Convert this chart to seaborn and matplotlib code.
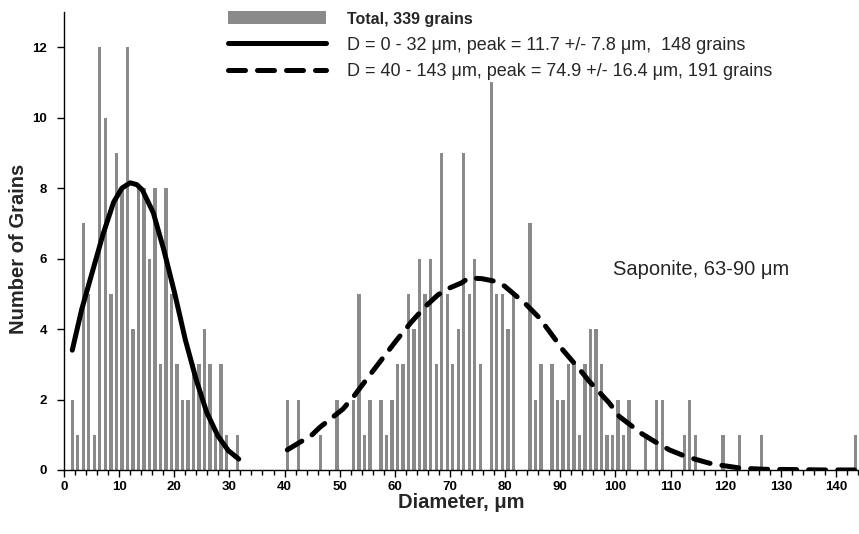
import numpy as np
import pandas as pd
import matplotlib
matplotlib.use("Agg")
import matplotlib.pyplot as plt
import seaborn as sns
from matplotlib.patches import Patch
from matplotlib.lines import Line2D
from matplotlib.ticker import MultipleLocator

# grains per 1 um bin, bin d covers [d, d+1)
diam_small = list(range(1, 32))
cnt_small = [2, 1, 7, 5, 1, 12, 10, 5, 9, 8, 12, 4, 8, 8, 6, 8, 3, 8, 5, 3,
             2, 2, 3, 3, 4, 3, 1, 3, 1, 0, 1]

diam_large = [40, 42, 46, 49, 52, 53, 54, 55, 57, 58, 59, 60, 61, 62, 63, 64,
              65, 66, 67, 68, 69, 70, 71, 72, 73, 74, 75, 77, 78, 79, 80, 81,
              84, 85, 86, 88, 89, 90, 91, 92, 93, 94, 95, 96, 97, 98, 99, 100,
              101, 102, 105, 107, 108, 112, 113, 114, 119, 122, 126, 143]
cnt_large = [2, 2, 1, 2, 2, 5, 1, 2, 2, 1, 2, 3, 3, 5, 4, 6,
             5, 6, 3, 9, 5, 3, 4, 9, 5, 6, 3, 11, 5, 5, 4, 5,
             7, 2, 3, 3, 2, 2, 3, 3, 1, 3, 4, 4, 3, 1, 1, 2,
             1, 2, 1, 2, 2, 1, 2, 1, 1, 1, 1, 1]

# fitted curves
fit1_x = [1.5, 3.2, 5.1, 7.1, 9.0, 10.5, 12.0, 13.2, 14.2, 16.2, 18.1, 20.1,
          22.0, 24.0, 25.9, 27.9, 29.8, 31.7]
fit1_y = [3.4, 4.55, 5.6, 6.7, 7.6, 8.0, 8.15, 8.1, 7.95, 7.3, 6.25, 5.0,
          3.7, 2.55, 1.63, 0.97, 0.55, 0.31]

fit2_x = [40.5, 42.7, 44.8, 46.4, 48.5, 50.6, 52.6, 55.0, 57.2, 60.4, 63.0,
          65.6, 67.9, 70.0, 72.1, 73.4, 75.8, 78.0, 79.9, 83.8, 86.2, 88.9,
          90.4, 93.8, 95.3, 98.9, 100.7, 104.7, 107.1, 109.8, 112.8, 117.1,
          118.9, 122.8, 127.0, 133.0, 138.0, 143.5]
fit2_y = [0.57, 0.78, 0.97, 1.21, 1.47, 1.73, 2.1, 2.6, 3.05, 3.7, 4.2,
          4.65, 4.98, 5.17, 5.31, 5.45, 5.43, 5.36, 5.22, 4.7, 4.32, 3.75,
          3.42, 2.8, 2.51, 1.9, 1.52, 1.04, 0.81, 0.57, 0.38, 0.19,
          0.14, 0.05, 0.02, 0.01, 0.0, 0.0]

df = pd.DataFrame({"d": diam_small + diam_large, "n": cnt_small + cnt_large})

sns.set_style("ticks")
plt.rcParams["font.family"] = ["Liberation Sans", "DejaVu Sans"]

grey = "#8a8a8a"
fig = plt.figure(figsize=(8.59, 5.34), dpi=100)
ax = fig.add_axes([0.0745, 0.1199, 0.9243, 0.8577])

sns.histplot(data=df, x="d", weights="n", binwidth=1, binrange=(0, 144),
             shrink=0.6, color=grey, alpha=1, linewidth=0, ax=ax)

sns.lineplot(x=fit1_x, y=fit1_y, color="black", lw=3.6,
             solid_capstyle="round", solid_joinstyle="round", ax=ax)
sns.lineplot(x=fit2_x, y=fit2_y, color="black", lw=3.6,
             linestyle=(0, (3.4, 2.4)), dash_capstyle="round", ax=ax)

ax.set_xlim(0, 144)
ax.set_ylim(0, 13)
ax.set_yticks(range(0, 13, 2))
ax.set_xticks(range(0, 141, 10))
ax.xaxis.set_minor_locator(MultipleLocator(2))
ax.tick_params(axis="both", which="major", labelsize=9.5, length=5, width=1,
               color="black", labelcolor="black")
ax.tick_params(axis="x", which="major", pad=3)
ax.tick_params(axis="y", which="major", pad=7)
ax.tick_params(axis="x", which="minor", length=3.5, width=1, color="black")
for lab in ax.get_xticklabels() + ax.get_yticklabels():
    lab.set_fontweight("bold")
for s in ["left", "bottom"]:
    ax.spines[s].set_color("black")
    ax.spines[s].set_linewidth(1)
sns.despine(ax=ax)

ax.set_xlabel("Diameter, \u03bcm", fontsize=14.5, fontweight="bold", labelpad=0)
ax.set_ylabel("Number of Grains", fontsize=14.5, fontweight="bold")
ax.yaxis.set_label_coords(-0.045, 0.4825)

ax.text(99.6, 5.7, "Saponite, 63-90 \u03bcm", fontsize=14.5, ha="left", va="center")

handles = [
    Patch(facecolor=grey, edgecolor="none"),
    Line2D([], [], color="black", lw=3.6, solid_capstyle="round"),
    Line2D([], [], color="black", lw=3.6, linestyle=(0, (3.4, 2.4)),
           dash_capstyle="round"),
]
labels = [
    "Total, 339 grains",
    "D = 0 - 32 \u03bcm, peak = 11.7 +/- 7.8 \u03bcm,  148 grains",
    "D = 40 - 143 \u03bcm, peak = 74.9 +/- 16.4 \u03bcm, 191 grains",
]
leg = ax.legend(handles, labels, loc="upper left", frameon=False,
                bbox_to_anchor=(228 / 859, 1 - 11 / 534),
                bbox_transform=fig.transFigure, borderpad=0, borderaxespad=0,
                fontsize=13, handlelength=5.4, handletextpad=1.2,
                labelspacing=0.55)
leg.get_texts()[0].set_fontweight("bold")
leg.get_texts()[0].set_fontsize(11.5)

fig.savefig("out.png", dpi=100)
